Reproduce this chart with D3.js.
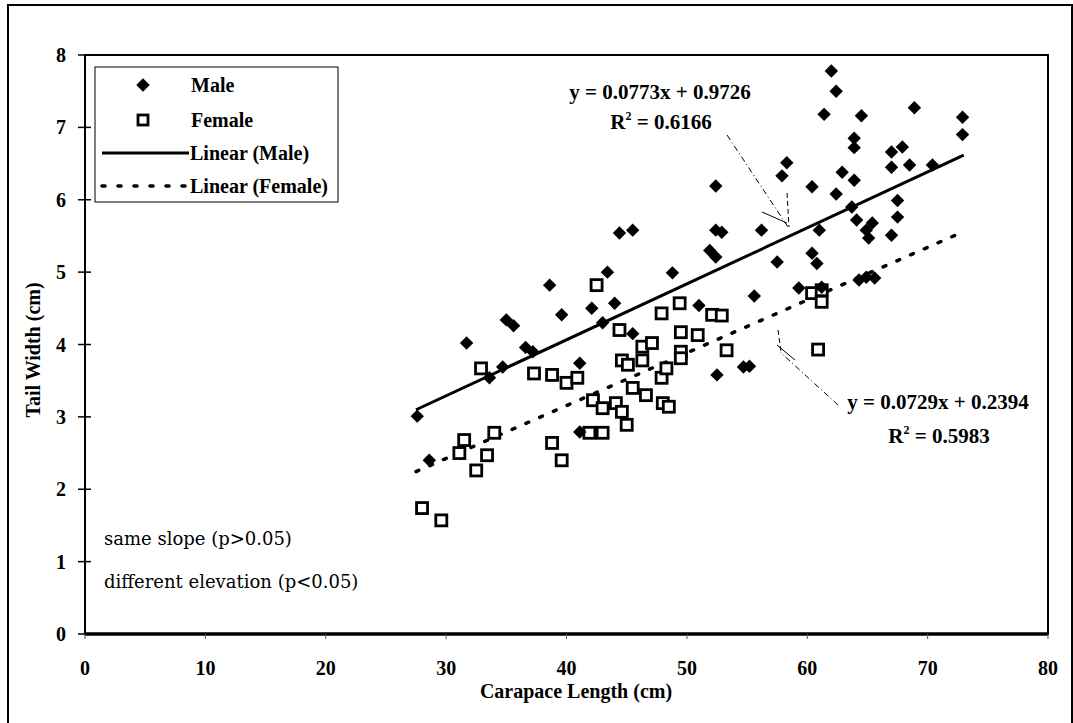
<!DOCTYPE html>
<html>
<head>
<meta charset="utf-8">
<script src="https://cdn.jsdelivr.net/npm/d3@7"></script>
<style>
    body { margin: 0; background: #fff; }
    svg text { font-family: "Liberation Serif", "Times New Roman", serif; fill: #000; }
    .tick-label { font-weight: bold; font-size: 20px; }
    .axis-title { font-weight: bold; font-size: 20px; }
    .legend-text { font-weight: bold; font-size: 20px; }
    .eq-text { font-weight: bold; font-size: 21px; }
    .note-text { font-family: "DejaVu Serif", serif; font-size: 18px; }
</style>
</head>
<body>
<svg id="chart" width="1073" height="723"></svg>
<script>
// male points
const maleX = [27.6, 28.6, 31.7, 33.6, 34.7, 35.0, 35.6, 36.6, 37.2, 38.6, 39.6, 41.1, 41.1, 42.1, 43.0,
    43.4, 44.0, 44.4, 45.5, 45.5, 48.8, 51.0, 51.9, 52.4, 52.4, 52.4, 52.9, 52.5, 54.7, 55.2,
    55.6, 56.2, 57.5, 57.9, 58.3, 59.3, 60.4, 60.8, 60.4, 61.0, 61.2, 61.4, 62.0, 62.4, 62.4,
    62.9, 63.7, 63.9, 63.9, 63.9, 64.1, 64.3, 64.5, 64.9, 64.9, 65.1, 65.4, 65.6, 67.0, 67.0,
    67.0, 67.5, 67.5, 67.9, 68.5, 68.9, 70.4, 72.9, 72.9];
const maleY = [3.01, 2.40, 4.02, 3.54, 3.69, 4.34, 4.26, 3.96, 3.90, 4.82, 4.41, 3.74, 2.79, 4.50, 4.30,
    5.00, 4.57, 5.54, 5.58, 4.15, 4.99, 4.54, 5.30, 5.21, 6.19, 5.58, 5.55, 3.58, 3.69, 3.70,
    4.67, 5.58, 5.14, 6.33, 6.51, 4.78, 5.26, 5.12, 6.18, 5.58, 4.79, 7.18, 7.78, 7.50, 6.08,
    6.38, 5.90, 6.27, 6.85, 6.72, 5.72, 4.89, 7.16, 5.58, 4.93, 5.47, 5.68, 4.92, 6.66, 6.45,
    5.51, 5.99, 5.76, 6.73, 6.48, 7.27, 6.48, 7.14, 6.90];

// female points
const femaleX = [28.0, 29.6, 31.1, 31.5, 32.5, 33.4, 32.9, 34.0, 37.3, 38.8, 38.8, 39.6, 40.0, 40.9, 41.9,
    42.2, 42.5, 43.0, 43.0, 44.1, 44.4, 44.6, 44.6, 45.0, 45.1, 45.5, 46.3, 46.3, 46.6, 47.1,
    47.9, 47.9, 48.0, 48.3, 48.5, 49.4, 49.5, 49.5, 49.5, 50.9, 52.1, 52.9, 53.3, 60.4, 61.2,
    61.2, 60.9];
const femaleY = [1.74, 1.57, 2.50, 2.68, 2.26, 2.47, 3.67, 2.78, 3.60, 3.58, 2.64, 2.40, 3.47, 3.54, 2.78,
    3.23, 4.82, 3.12, 2.78, 3.19, 4.20, 3.78, 3.07, 2.89, 3.72, 3.40, 3.97, 3.78, 3.30, 4.02,
    4.43, 3.54, 3.19, 3.67, 3.14, 4.57, 4.17, 3.90, 3.81, 4.13, 4.41, 4.40, 3.92, 4.71, 4.75,
    4.59, 3.93];

// trendlines (slope, intercept) and their x range
const maleFit = [0.0773, 0.9726];
const femaleFit = [0.0729, 0.2394];
const fitRange = [27.5, 73];

const xTicks = [0, 10, 20, 30, 40, 50, 60, 70, 80];
const yTicks = [0, 1, 2, 3, 4, 5, 6, 7, 8];
const legendLabels = ['Male', 'Female', 'Linear (Male)', 'Linear (Female)'];

const LEFT = 85, RIGHT = 1048, TOP = 55, BOTTOM = 634;

const svg = d3.select('#chart');

// scales
const xScale = d3.scaleLinear().domain([0, 80]).range([LEFT, RIGHT]);
const yScale = d3.scaleLinear().domain([0, 8]).range([BOTTOM, TOP]);

/**
 * draws frames, axes and tick labels
 */
function renderFrame(){
    // outer border of the figure
    svg.append('rect')
    .attr('x', 8).attr('y', 5)
    .attr('width', 1064).attr('height', 730)
    .attr('fill', 'none').attr('stroke', '#000').attr('stroke-width', 2);

    // plot area box
    svg.append('rect')
    .attr('x', LEFT).attr('y', TOP)
    .attr('width', RIGHT - LEFT).attr('height', BOTTOM - TOP)
    .attr('fill', 'none').attr('stroke', '#000').attr('stroke-width', 2);

    // thick bottom axis line
    svg.append('line')
    .attr('x1', LEFT).attr('x2', RIGHT)
    .attr('y1', BOTTOM).attr('y2', BOTTOM)
    .attr('stroke', '#000').attr('stroke-width', 3.5);

    // y ticks cross the axis
    svg.selectAll('line.ytick')
    .data(yTicks)
    .enter()
    .append('line')
    .attr('class', 'ytick')
    .attr('x1', LEFT - 7).attr('x2', LEFT + 6)
    .attr('y1', d => yScale(d)).attr('y2', d => yScale(d))
    .attr('stroke', '#000').attr('stroke-width', 1.5);

    svg.selectAll('text.ylab')
    .data(yTicks)
    .enter()
    .append('text')
    .attr('class', 'ylab tick-label')
    .attr('x', 66)
    .attr('y', d => yScale(d) + 7)
    .attr('text-anchor', 'end')
    .text(d => d);

    // x ticks are tiny marks under the axis
    svg.selectAll('line.xtick')
    .data(xTicks)
    .enter()
    .append('line')
    .attr('class', 'xtick')
    .attr('x1', d => xScale(d)).attr('x2', d => xScale(d))
    .attr('y1', BOTTOM).attr('y2', BOTTOM + 5)
    .attr('stroke', '#555').attr('stroke-width', 1);

    svg.selectAll('text.xlab')
    .data(xTicks)
    .enter()
    .append('text')
    .attr('class', 'xlab tick-label')
    .attr('x', d => xScale(d))
    .attr('y', 675)
    .attr('text-anchor', 'middle')
    .text(d => d);

    svg.append('text')
    .attr('class', 'axis-title')
    .attr('x', 576)
    .attr('y', 698)
    .attr('text-anchor', 'middle')
    .text('Carapace Length (cm)');

    svg.append('text')
    .attr('class', 'axis-title')
    .attr('transform', `translate(40,350) rotate(-90)`)
    .attr('text-anchor', 'middle')
    .text('Tail Width (cm)');
}

/**
 * draws the scatter points and the two trendlines
 */
function renderData(){
    const male = maleX.map((x, i) => ({x: x, y: maleY[i]}));
    const female = femaleX.map((x, i) => ({x: x, y: femaleY[i]}));

    const line = d3.line().x(d => xScale(d[0])).y(d => yScale(d[1]));
    const fitPoints = fit => fitRange.map(x => [x, fit[0] * x + fit[1]]);

    svg.append('path')
    .attr('d', line(fitPoints(maleFit)))
    .attr('stroke', '#000').attr('stroke-width', 3).attr('fill', 'none');

    svg.append('path')
    .attr('d', line(fitPoints(femaleFit)))
    .attr('stroke', '#000').attr('stroke-width', 3.5).attr('fill', 'none')
    .attr('stroke-dasharray', '3 12').attr('stroke-linecap', 'round');

    svg.selectAll('rect.female')
    .data(female)
    .enter()
    .append('rect')
    .attr('class', 'female')
    .attr('x', d => xScale(d.x) - 5.5)
    .attr('y', d => yScale(d.y) - 5.5)
    .attr('width', 11).attr('height', 11)
    .attr('fill', '#fff').attr('stroke', '#000').attr('stroke-width', 2.8);

    svg.selectAll('path.male')
    .data(male)
    .enter()
    .append('path')
    .attr('class', 'male')
    .attr('d', d3.symbol(d3.symbolDiamond2, 115))
    .attr('transform', d => `translate(${xScale(d.x)},${yScale(d.y)})`)
    .attr('fill', '#000');
}

/**
 * legend, equations, arrows and the test notes
 */
function renderAnnotations(){
    const lg = svg.append('g');
    lg.append('rect')
    .attr('x', 95).attr('y', 67).attr('width', 243).attr('height', 135)
    .attr('fill', '#fff').attr('stroke', '#000').attr('stroke-width', 1);

    const rowY = [85, 120, 153, 186];
    lg.append('path')
    .attr('d', d3.symbol(d3.symbolDiamond2, 115))
    .attr('transform', `translate(143,${rowY[0]})`);
    lg.append('rect')
    .attr('x', 138).attr('y', rowY[1] - 5).attr('width', 10).attr('height', 10)
    .attr('fill', '#fff').attr('stroke', '#000').attr('stroke-width', 2.8);
    lg.append('line')
    .attr('x1', 102).attr('x2', 189).attr('y1', rowY[2]).attr('y2', rowY[2])
    .attr('stroke', '#000').attr('stroke-width', 3);
    lg.append('line')
    .attr('x1', 102).attr('x2', 189).attr('y1', rowY[3]).attr('y2', rowY[3])
    .attr('stroke', '#000').attr('stroke-width', 3.5)
    .attr('stroke-dasharray', '3 13').attr('stroke-linecap', 'round');

    lg.selectAll('text')
    .data(legendLabels)
    .enter()
    .append('text')
    .attr('class', 'legend-text')
    .attr('x', (d, i) => i < 2 ? 191 : 190)
    .attr('y', (d, i) => rowY[i] + 7)
    .text(d => d);

    // male equation
    svg.append('text').attr('class', 'eq-text').attr('text-anchor', 'middle')
    .attr('x', 660).attr('y', 99).text('y = 0.0773x + 0.9726');
    const r2M = svg.append('text').attr('class', 'eq-text').attr('text-anchor', 'middle')
    .attr('x', 661).attr('y', 129);
    r2M.append('tspan').text('R');
    r2M.append('tspan').attr('font-size', 12).attr('dy', -9).text('2');
    r2M.append('tspan').attr('dy', 9).text(' = 0.6166');

    // female equation
    svg.append('text').attr('class', 'eq-text').attr('text-anchor', 'middle')
    .attr('x', 938).attr('y', 409).text('y = 0.0729x + 0.2394');
    const r2F = svg.append('text').attr('class', 'eq-text').attr('text-anchor', 'middle')
    .attr('x', 939).attr('y', 443);
    r2F.append('tspan').text('R');
    r2F.append('tspan').attr('font-size', 12).attr('dy', -9).text('2');
    r2F.append('tspan').attr('dy', 9).text(' = 0.5983');

    // pointer lines
    const arrows = [
        [[727, 135], [788, 227], '6 3 1 3'],
        [[787, 193], [789, 227], '5 3'],
        [[762, 212], [787, 223], null],
        [[838, 405], [780, 352], '6 3 1 3'],
        [[778, 330], [781, 352], '5 3'],
        [[777, 345], [795, 360], null]
    ];
    svg.selectAll('line.arrow')
    .data(arrows)
    .enter()
    .append('line')
    .attr('class', 'arrow')
    .attr('x1', d => d[0][0]).attr('y1', d => d[0][1])
    .attr('x2', d => d[1][0]).attr('y2', d => d[1][1])
    .attr('stroke', '#000').attr('stroke-width', 1)
    .attr('stroke-dasharray', d => d[2]);

    svg.append('text').attr('class', 'note-text')
    .attr('x', 104).attr('y', 545).text('same slope (p>0.05)');
    svg.append('text').attr('class', 'note-text')
    .attr('x', 104).attr('y', 588).text('different elevation (p<0.05)');
}

renderFrame();
renderData();
renderAnnotations();
</script>
</body>
</html>
